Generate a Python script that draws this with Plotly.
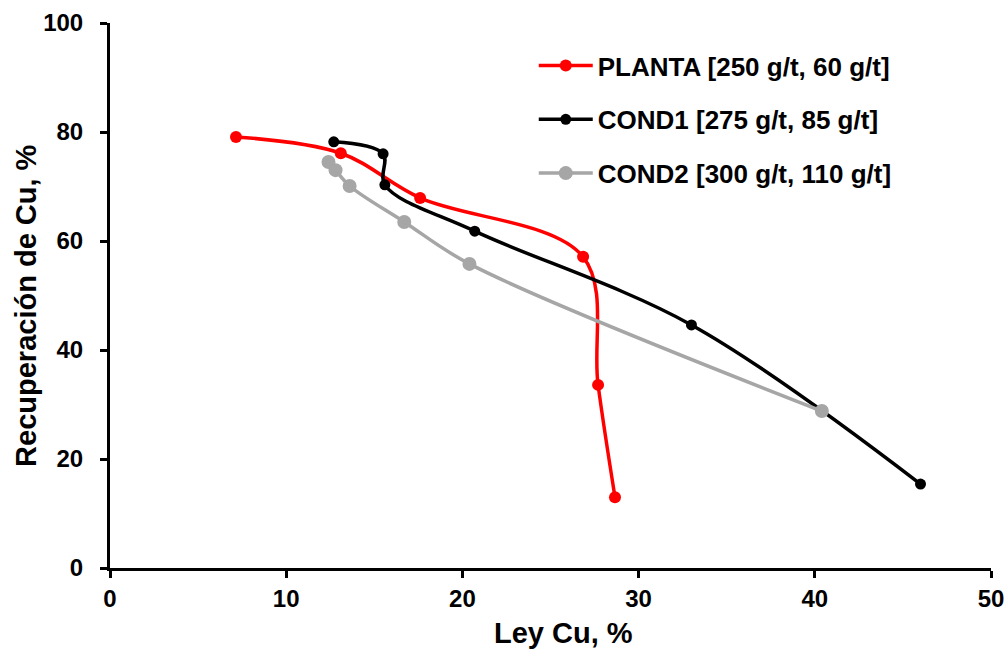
import plotly.graph_objects as go

# Ley Cu (%) vs Recuperación de Cu (%) for each reagent condition
planta_ley = [7.15, 13.1, 17.6, 26.85, 27.7, 28.66]
planta_rec = [79.1, 76.1, 67.9, 57.1, 33.6, 13.0]

cond1_ley = [12.7, 15.5, 15.6, 20.7, 33.0, 46.0]
cond1_rec = [78.2, 76.0, 70.3, 61.8, 44.6, 15.4]

cond2_ley = [12.4, 12.8, 13.6, 16.7, 20.4, 40.4]
cond2_rec = [74.5, 73.0, 70.1, 63.5, 55.8, 28.8]

names = ["PLANTA [250 g/t, 60 g/t]", "COND1 [275 g/t, 85 g/t]", "COND2 [300 g/t, 110 g/t]"]
colors = ["#FF0000", "#000000", "#A6A6A6"]
msizes = [12, 11, 14]

FONT = "Liberation Sans, Arial, sans-serif"

fig = go.Figure()
for i, (x, y) in enumerate([(planta_ley, planta_rec), (cond1_ley, cond1_rec), (cond2_ley, cond2_rec)]):
    fig.add_trace(go.Scatter(
        x=x, y=y, mode="lines+markers", name=names[i], legendgroup=f"g{i}",
        line=dict(color=colors[i], width=3.5, shape="spline", smoothing=1),
        marker=dict(color=colors[i], size=msizes[i]),
    ))

axis_common = dict(
    showline=True, linecolor="black", linewidth=3, mirror=False,
    ticks="outside", ticklen=7, tickwidth=3, tickcolor="black",
    showgrid=False, zeroline=False, automargin=False,
    tickfont=dict(family=FONT, size=24, color="black", weight="bold"),
)

fig.update_layout(
    width=1007, height=650,
    margin=dict(l=110, r=16, t=23, b=82),
    paper_bgcolor="white", plot_bgcolor="white",
    font=dict(family=FONT, color="black"),
    xaxis=dict(range=[0, 50], dtick=10, ticklabelstandoff=0, **axis_common),
    yaxis=dict(range=[0, 100], dtick=20, ticklabelstandoff=12, **axis_common),
    legend=dict(
        x=0.481, y=0.965, xanchor="left", yanchor="top",
        bgcolor="rgba(0,0,0,0)", tracegroupgap=17, itemwidth=54,
        font=dict(family=FONT, size=26, color="black", weight="bold"),
    ),
    annotations=[
        dict(text="<b>Ley Cu, %</b>", xref="paper", yref="paper", x=0.515, y=-0.119,
             xanchor="center", yanchor="middle", showarrow=False,
             font=dict(family=FONT, size=29, color="black")),
        dict(text="<b>Recuperación de Cu, %</b>", xref="paper", yref="paper", x=-0.0953, y=0.481,
             xanchor="center", yanchor="middle", showarrow=False, textangle=-90,
             font=dict(family=FONT, size=29, color="black")),
    ],
)

fig.write_html("out.html")
